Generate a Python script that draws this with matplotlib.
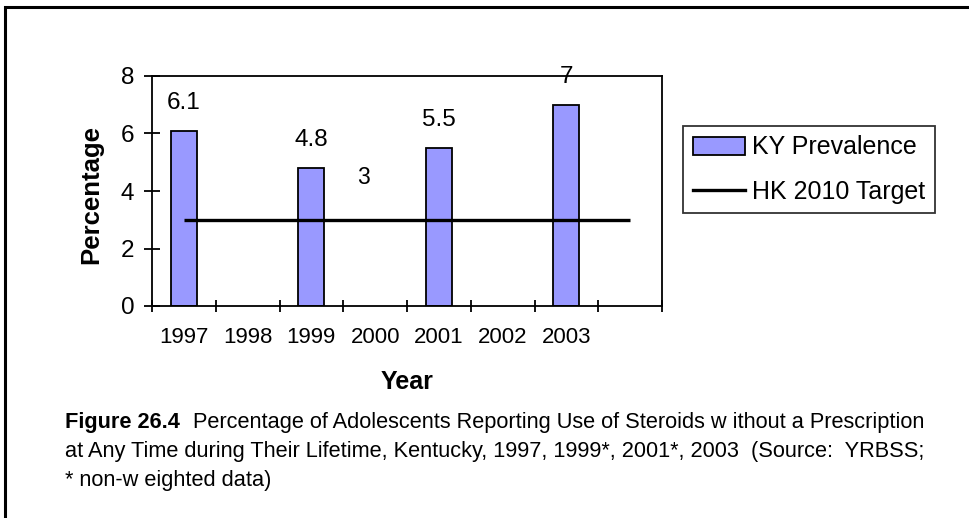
import matplotlib
matplotlib.use("Agg")
import matplotlib.pyplot as plt
from matplotlib.patches import Rectangle
from matplotlib.lines import Line2D

plt.rcParams['font.family'] = ['Liberation Sans', 'DejaVu Sans']

categories = ['1997', '1998', '1999', '2000', '2001', '2002', '2003', '']
prevalence = [6.1, None, 4.8, None, 5.5, None, 7.0, None]
target = [3, 3, 3, 3, 3, 3, 3, 3]
prev_labels = ['6.1', '', '4.8', '', '5.5', '', '7', '']
target_label = '3'
yticks = [0, 2, 4, 6, 8]

W, H = 969, 518
fig = plt.figure(figsize=(W / 100, H / 100), dpi=100)

# outer frame (left and top visible)
fig.patches.append(Rectangle((5 / W, -0.1), 1.2, 1 - 7 / H + 0.1, transform=fig.transFigure,
                             fill=False, edgecolor='black', linewidth=2.2))

ax = fig.add_axes([152 / W, 1 - 306 / H, (662 - 152) / W, (306 - 76) / H])
xs = list(range(len(categories)))
bx = [x for x, v in zip(xs, prevalence) if v is not None]
bv = [v for v in prevalence if v is not None]
bl = [l for l, v in zip(prev_labels, prevalence) if v is not None]
ax.bar(bx, bv, width=0.41, color='#9999FF', edgecolor='black', linewidth=1.3,
       label='KY Prevalence', zorder=2)
for x, v, l in zip(bx, bv, bl):
    ax.annotate(l, xy=(x, v), xytext=(0, 28), textcoords='offset pixels',
                ha='center', va='center', fontsize=17.5, zorder=4)

ax.plot(xs, target, color='black', linewidth=2.4, label='HK 2010 Target',
        solid_capstyle='butt', zorder=3)
ax.annotate(target_label, xy=(2.81, target[2]), xytext=(0, 42), textcoords='offset pixels',
            ha='center', va='center', fontsize=16.5)

ax.set_xlim(-0.5, len(categories) - 0.5)
ax.set_ylim(0, 8)
ax.set_yticks(yticks)
ax.set_yticklabels([str(t) for t in yticks], fontsize=17.5)
ax.set_xticks([x - 0.5 for x in xs] + [len(categories) - 0.5])
ax.set_xticklabels([])
ax.set_xticks(xs, minor=True)
ax.set_xticklabels(categories, minor=True, fontsize=16)
ax.tick_params(axis='x', which='major', direction='inout', length=8.6, width=1.3)
ax.tick_params(axis='x', which='minor', length=0, pad=15)
ax.tick_params(axis='y', direction='inout', length=11.5, width=1.3, pad=7)
for s in ax.spines.values():
    s.set_linewidth(1.3)

fig.text(91 / W, 1 - 195 / H, 'Percentage', rotation=90, ha='center', va='center',
         fontsize=18.5, fontweight='bold')
fig.text(407 / W, 1 - 382 / H, 'Year', ha='center', va='center', fontsize=18,
         fontweight='bold')

handles = [Rectangle((0, 0), 1, 1, facecolor='#9999FF', edgecolor='black', linewidth=1.3),
           Line2D([], [], color='black', linewidth=2.4)]
leg = fig.legend(handles, ['KY Prevalence', 'HK 2010 Target'], loc='upper left',
                 bbox_to_anchor=(683 / W, 1 - 126 / H), fontsize=18, frameon=True,
                 fancybox=False, edgecolor='black', borderpad=0.38, handlelength=2.1,
                 handletextpad=0.3, labelspacing=0.8, borderaxespad=0)
leg.get_frame().set_linewidth(1.3)

cap_x = 65 / W
cap_fs = 15.7
b = fig.text(cap_x, 1 - 428 / H, 'Figure 26.4', fontsize=cap_fs, fontweight='bold',
             ha='left', va='baseline')
fig.canvas.draw()
ext = b.get_window_extent()
fig.text(ext.x1 / W + 13 / W, 1 - 428 / H,
         'Percentage of Adolescents Reporting Use of Steroids w ithout a Prescription',
         fontsize=cap_fs, ha='left', va='baseline')
fig.text(cap_x, 1 - 457 / H,
         'at Any Time during Their Lifetime, Kentucky, 1997, 1999*, 2001*, 2003  (Source:  YRBSS;',
         fontsize=cap_fs, ha='left', va='baseline')
fig.text(cap_x, 1 - 486 / H, '* non-w eighted data)', fontsize=cap_fs, ha='left', va='baseline')

fig.savefig('out.png', dpi=100)
